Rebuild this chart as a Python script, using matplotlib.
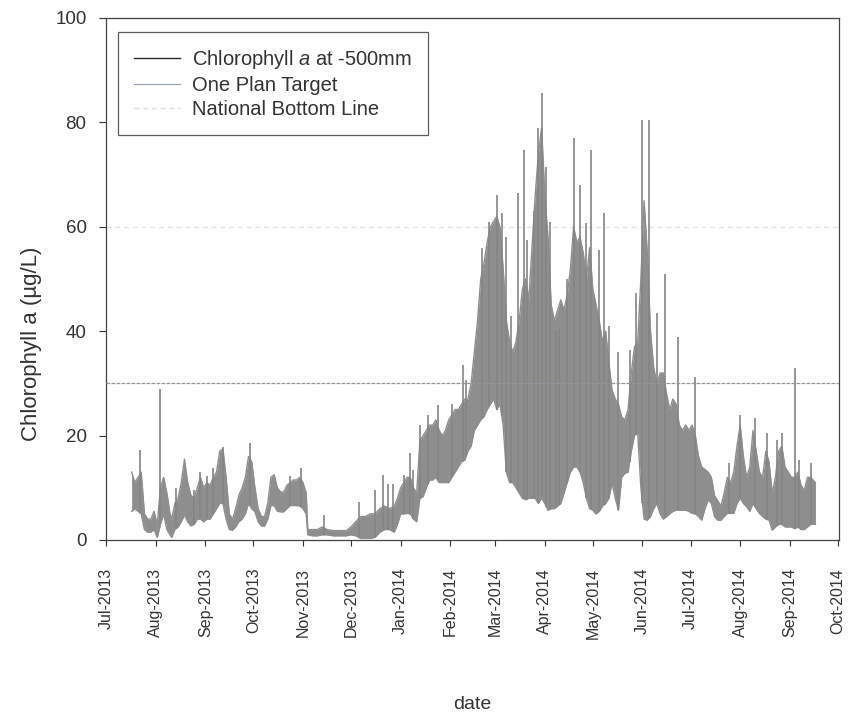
import numpy as np
import pandas as pd
import matplotlib
matplotlib.use('Agg')
import matplotlib.pyplot as plt
import matplotlib.dates as mdates
from matplotlib.lines import Line2D

plt.rcParams['font.family'] = ['Liberation Sans', 'DejaVu Sans']
plt.rcParams['mathtext.fontset'] = 'custom'
plt.rcParams['mathtext.it'] = 'Liberation Sans:italic'
plt.rcParams['mathtext.rm'] = 'Liberation Sans'

env_dates = [
    '2013-07-17', '2013-07-19', '2013-07-21', '2013-07-23', '2013-07-25', '2013-07-27', '2013-07-29', '2013-07-31',
    '2013-08-02', '2013-08-04', '2013-08-06', '2013-08-08', '2013-08-10', '2013-08-11', '2013-08-13', '2013-08-15',
    '2013-08-17', '2013-08-19', '2013-08-21', '2013-08-23', '2013-08-25', '2013-08-27', '2013-08-29', '2013-08-31',
    '2013-09-02', '2013-09-04', '2013-09-06', '2013-09-08', '2013-09-10', '2013-09-12', '2013-09-14', '2013-09-16',
    '2013-09-18', '2013-09-20', '2013-09-22', '2013-09-24', '2013-09-26', '2013-09-28', '2013-09-30', '2013-10-02',
    '2013-10-04', '2013-10-06', '2013-10-08', '2013-10-10', '2013-10-12', '2013-10-14', '2013-10-16', '2013-10-18',
    '2013-10-20', '2013-10-22', '2013-10-24', '2013-10-26', '2013-10-28', '2013-10-30', '2013-11-01', '2013-11-03',
    '2013-11-04', '2013-11-07', '2013-11-10', '2013-11-13', '2013-11-16', '2013-11-20', '2013-11-24', '2013-11-28',
    '2013-12-01', '2013-12-04', '2013-12-07', '2013-12-10', '2013-12-13', '2013-12-16', '2013-12-19', '2013-12-22',
    '2013-12-25', '2013-12-28', '2013-12-30', '2014-01-01', '2014-01-03', '2014-01-05', '2014-01-07', '2014-01-09',
    '2014-01-11', '2014-01-13', '2014-01-15', '2014-01-17', '2014-01-19', '2014-01-21', '2014-01-23', '2014-01-25',
    '2014-01-27', '2014-01-29', '2014-01-31', '2014-02-02', '2014-02-04', '2014-02-06', '2014-02-08', '2014-02-10',
    '2014-02-12', '2014-02-14', '2014-02-16', '2014-02-18', '2014-02-20', '2014-02-22', '2014-02-24', '2014-02-26',
    '2014-02-28', '2014-03-02', '2014-03-04', '2014-03-06', '2014-03-08', '2014-03-10', '2014-03-12', '2014-03-14',
    '2014-03-16', '2014-03-18', '2014-03-20', '2014-03-22', '2014-03-24', '2014-03-26', '2014-03-28', '2014-03-30',
    '2014-04-01', '2014-04-03', '2014-04-05', '2014-04-07', '2014-04-09', '2014-04-11', '2014-04-13', '2014-04-15',
    '2014-04-17', '2014-04-19', '2014-04-21', '2014-04-23', '2014-04-25', '2014-04-27', '2014-04-29', '2014-05-01',
    '2014-05-03', '2014-05-05', '2014-05-07', '2014-05-09', '2014-05-11', '2014-05-13', '2014-05-15', '2014-05-17',
    '2014-05-19', '2014-05-21', '2014-05-23', '2014-05-25', '2014-05-27', '2014-05-29', '2014-05-31', '2014-06-02',
    '2014-06-04', '2014-06-06', '2014-06-08', '2014-06-10', '2014-06-12', '2014-06-14', '2014-06-16', '2014-06-18',
    '2014-06-20', '2014-06-22', '2014-06-24', '2014-06-26', '2014-06-28', '2014-06-30', '2014-07-02', '2014-07-04',
    '2014-07-06', '2014-07-08', '2014-07-10', '2014-07-12', '2014-07-14', '2014-07-16', '2014-07-18', '2014-07-20',
    '2014-07-22', '2014-07-24', '2014-07-26', '2014-07-28', '2014-07-30', '2014-08-01', '2014-08-03', '2014-08-05',
    '2014-08-07', '2014-08-09', '2014-08-11', '2014-08-13', '2014-08-15', '2014-08-17', '2014-08-19', '2014-08-21',
    '2014-08-23', '2014-08-25', '2014-08-27', '2014-08-29', '2014-08-31', '2014-09-02', '2014-09-04', '2014-09-06',
    '2014-09-08', '2014-09-10', '2014-09-12', '2014-09-14', '2014-09-17',
]
env_low = [
    5.5, 6, 5.5, 5, 2, 1.5, 1.5, 2,
    0.5, 3, 5, 2, 1, 0.5, 2, 2.5,
    3.5, 4.8, 3.5, 2.7, 3, 4, 4, 3.5,
    4, 4, 5, 6, 7, 7, 4, 2,
    1.9, 2.5, 3.5, 4, 5, 7, 6, 5.4,
    3.5, 2.7, 2.7, 4, 6.6, 6.6, 5.5, 5.4,
    5.4, 6, 6.6, 6.6, 6.6, 6.5, 6, 5,
    1, 0.8, 0.8, 1, 1, 0.8, 0.8, 0.8,
    1, 0.8, 0.3, 0.3, 0.3, 0.5, 1.5, 2,
    2, 1.5, 3, 5, 5, 5.1, 5, 4,
    3.5, 8, 8.3, 10, 11.5, 11.5, 12, 11,
    11, 11, 11, 12, 13, 14, 15, 15.3,
    17, 18, 21, 22, 23, 23.6, 25, 26,
    27, 25, 26, 22, 13, 11, 11, 10,
    9, 8, 7.7, 8, 8, 8, 7, 8,
    7, 5.7, 6, 6, 6.5, 7, 9, 11,
    13, 14, 14, 13, 11, 8, 6, 5.7,
    5, 5.5, 6.5, 7, 8, 10.9, 8, 5.7,
    12, 12.8, 13, 17, 20, 20.5, 10, 4,
    3.8, 4.5, 6, 7, 5, 4, 4.5, 5,
    5.5, 5.7, 5.7, 5.7, 5.7, 5.5, 5.1, 5,
    4.5, 3.8, 6, 7.7, 7, 4.5, 3.8, 3.8,
    4.5, 5.1, 5.1, 5.1, 7, 8, 7, 6.4,
    5.5, 7, 6, 5.1, 4.5, 4, 3.8, 1.9,
    2.5, 3, 3, 2.5, 2.5, 2.5, 2.2, 2.5,
    2, 2, 2.5, 3, 3,
]
env_high = [
    13, 11, 12, 13, 5, 4, 4, 5.5,
    3, 10, 12, 9, 5, 4, 7, 8,
    11, 15.5, 11, 8.6, 8, 10, 12, 10,
    11, 10.5, 12, 13, 17, 17.5, 12, 5,
    4, 6, 8.6, 10, 12, 16, 15, 10,
    6, 4.5, 4.5, 7, 12, 12.5, 10, 9.2,
    9.2, 10.5, 11, 11.5, 11.5, 12, 11, 9,
    2, 2, 2, 2.5, 2, 1.8, 1.8, 1.8,
    2.5, 3.5, 4.5, 4.5, 5, 5, 6, 6.5,
    6, 6.5, 8, 10, 11, 12, 12, 10,
    9, 19, 20, 21, 22, 22, 23, 21,
    20, 21, 23, 24, 25, 25, 26, 27,
    27, 30, 36, 42, 50, 53, 57, 60,
    61, 62, 60, 52, 42, 38, 36, 38,
    42, 48, 50, 46, 56, 66, 74, 79,
    66, 58, 45, 42, 44, 46, 44, 47,
    52, 60, 57, 58, 55, 50, 56, 48,
    45, 42, 38, 40, 34, 28.7, 27, 26,
    23.6, 23, 25, 32, 37, 38, 50, 65,
    55, 40, 33, 30, 32, 32, 28, 25,
    27, 26, 22, 21, 22, 21, 22, 20,
    16, 14, 13.5, 13, 12, 8.5, 7.5, 6.5,
    9, 12, 11, 13, 18, 22, 16, 12,
    14, 21, 17, 13, 12, 17, 15, 9,
    12, 17, 18, 14, 13, 12, 12, 13,
    10.5, 9.5, 12, 12, 11,
]

# narrow peaks sticking out of the envelope
spike_dates = [
    '2013-07-22', '2013-08-04', '2013-08-14', '2013-08-25', '2013-08-29', '2013-09-02', '2013-09-06', '2013-09-12',
    '2013-09-29', '2013-10-24', '2013-10-31', '2013-11-14', '2013-12-06', '2013-12-16', '2013-12-21', '2013-12-24',
    '2013-12-27', '2014-01-03', '2014-01-07', '2014-01-09', '2014-01-13', '2014-01-18', '2014-01-24', '2014-02-02',
    '2014-02-09', '2014-02-11', '2014-02-21', '2014-02-25', '2014-03-02', '2014-03-05', '2014-03-08', '2014-03-11',
    '2014-03-15', '2014-03-19', '2014-03-21', '2014-03-25', '2014-03-28', '2014-03-30', '2014-04-02', '2014-04-04',
    '2014-04-08', '2014-04-10', '2014-04-15', '2014-04-19', '2014-04-23', '2014-04-27', '2014-04-30', '2014-05-05',
    '2014-05-08', '2014-05-11', '2014-05-17', '2014-05-24', '2014-05-28', '2014-06-01', '2014-06-05', '2014-06-10',
    '2014-06-15', '2014-06-23', '2014-07-04', '2014-07-25', '2014-08-01', '2014-08-10', '2014-08-18', '2014-08-24',
    '2014-08-27', '2014-09-04', '2014-09-07', '2014-09-14',
]
spike_vals = [
    17.2, 29, 10, 9.5, 13, 12.2, 13.8, 17.9,
    18.6, 12.2, 13.8, 4.8, 7.3, 9.6, 12.5, 10.8,
    10.8, 12.5, 16.6, 13.4, 22, 24, 25.9, 26,
    33.5, 30.7, 56, 61, 66, 62.6, 58, 43,
    66.4, 74.7, 57.5, 63, 79, 85.6, 71.5, 61,
    40, 40.5, 50, 77, 68, 60.7, 74.7, 55.6,
    62.6, 41, 36, 36.4, 47.3, 80.5, 80.5, 43.5,
    51, 38.9, 31.3, 14.7, 24, 23.3, 20.5, 19.2,
    20.5, 33, 15.3, 14.7,
]

one_plan_target = 30
national_bottom_line = 60

t = pd.to_datetime(env_dates)
low = np.array(env_low)
high = np.array(env_high)
ts = pd.to_datetime(spike_dates)
spike_base = np.interp(mdates.date2num(ts), mdates.date2num(t), low)

fig = plt.figure(figsize=(8.48, 7.2), dpi=100)
ax = fig.add_axes([0.125, 0.25, 0.864, 0.725])

grey = '#8e8e8e'
ax.fill_between(t, low, high, color=grey, lw=0, zorder=2)
ax.plot(t, high, color=grey, lw=1.0, zorder=2)
ax.plot(t, low, color=grey, lw=1.0, zorder=2)
ax.vlines(ts, spike_base, spike_vals, color='#858585', lw=1.2, zorder=2)

ax.axhline(one_plan_target, color='#90959e', lw=0.9, ls=(0, (3, 1)), zorder=3)
ax.axhline(national_bottom_line, color='#e2e2e2', lw=0.9, ls=(0, (4, 3)), zorder=1)

ax.set_ylim(0, 100)
ax.set_yticks(np.arange(0, 101, 20))
ax.set_xlim(pd.Timestamp('2013-07-01'), pd.Timestamp('2014-10-01 12:00'))
ax.xaxis.set_major_locator(mdates.MonthLocator())
ax.xaxis.set_major_formatter(mdates.DateFormatter('%b-%Y'))
ax.tick_params(axis='x', labelrotation=90, labelsize=11.5, direction='out', length=4, width=0.8,
               pad=16, colors='#333333')
ax.tick_params(axis='y', labelsize=13.5, direction='out', length=5, width=0.8, pad=9, colors='#333333')
for s in ax.spines.values():
    s.set_color('#444444')
    s.set_linewidth(0.9)

ax.set_ylabel('Chlorophyll a (\u00b5g/L)', fontsize=16, color='#333333')
ax.yaxis.set_label_coords(-0.088, 0.375)
ax.set_xlabel('date', fontsize=14, color='#333333', labelpad=41)

handles = [
    Line2D([], [], color='#2a2a2a', lw=1.0),
    Line2D([], [], color='#9aa4b4', lw=0.9),
    Line2D([], [], color='#dcdcdc', lw=0.9, ls=(0, (4, 3))),
]
labels = ['Chlorophyll $\\it{a}$ at -500mm', 'One Plan Target', 'National Bottom Line']
leg = ax.legend(handles, labels, loc='upper left', bbox_to_anchor=(0.016, 0.973), borderaxespad=0,
                fontsize=14.5, frameon=True, fancybox=False, handlelength=2.3, handletextpad=0.6,
                labelspacing=0.25, borderpad=0.8)
leg.get_frame().set_edgecolor('#333333')
leg.get_frame().set_linewidth(0.9)
for txt in leg.get_texts():
    txt.set_color('#333333')

fig.savefig('out.png', dpi=100, facecolor='white')
